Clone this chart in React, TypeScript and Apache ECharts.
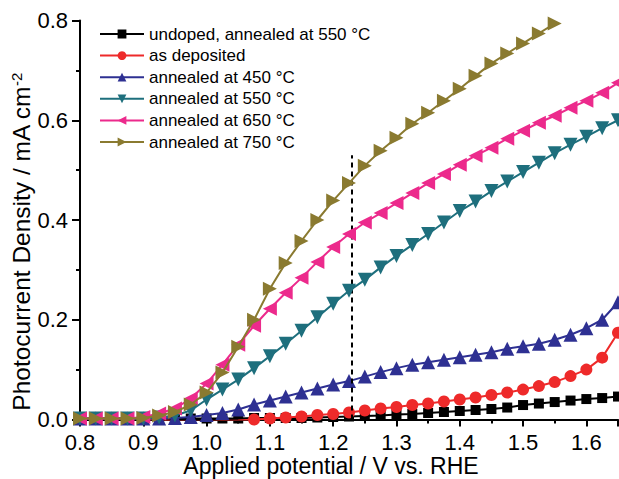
import React, { useEffect, useRef } from "react";
import * as echarts from "echarts";

const potentials = [0.8, 0.825, 0.85, 0.875, 0.9, 0.925, 0.95, 0.975, 1.0, 1.025, 1.05, 1.075, 1.1, 1.125, 1.15, 1.175, 1.2, 1.225, 1.25, 1.275, 1.3, 1.325, 1.35, 1.375, 1.4, 1.425, 1.45, 1.475, 1.5, 1.525, 1.55, 1.575, 1.6, 1.625, 1.65];

const undoped550 = [0.003, 0.003, 0.003, 0.003, 0.003, 0.002, 0.002, 0.002, 0.002, 0.002, 0.002, 0.003, 0.003, 0.003, 0.003, 0.004, 0.005, 0.006, 0.007, 0.008, 0.01, 0.011, 0.013, 0.015, 0.017, 0.019, 0.021, 0.024, 0.029, 0.032, 0.035, 0.038, 0.041, 0.043, 0.046];
const asDeposited = [0.003, 0.003, 0.003, 0.002, 0.001, -0.001, -0.003, -0.004, -0.004, -0.003, -0.002, 0.0, 0.002, 0.004, 0.006, 0.009, 0.011, 0.014, 0.018, 0.022, 0.025, 0.029, 0.032, 0.036, 0.04, 0.044, 0.049, 0.054, 0.06, 0.067, 0.075, 0.087, 0.1, 0.124, 0.174];
const annealed450 = [0.002, 0.002, 0.002, 0.002, 0.002, 0.002, 0.003, 0.005, 0.009, 0.013, 0.02, 0.03, 0.038, 0.046, 0.054, 0.062, 0.07, 0.077, 0.086, 0.095, 0.103, 0.11, 0.115, 0.12, 0.125, 0.13, 0.135, 0.142, 0.147, 0.152, 0.16, 0.17, 0.183, 0.2, 0.235];
const annealed550 = [0.002, 0.002, 0.002, 0.002, 0.002, 0.004, 0.008, 0.018, 0.04, 0.06, 0.08, 0.103, 0.127, 0.152, 0.178, 0.205, 0.232, 0.258, 0.28, 0.305, 0.328, 0.35, 0.372, 0.395, 0.418, 0.437, 0.458, 0.477, 0.496, 0.515, 0.534, 0.551, 0.567, 0.584, 0.6];
const annealed650 = [0.002, 0.002, 0.002, 0.002, 0.005, 0.012, 0.022, 0.042, 0.072, 0.11, 0.15, 0.188, 0.222, 0.254, 0.284, 0.316, 0.346, 0.372, 0.395, 0.414, 0.434, 0.454, 0.474, 0.492, 0.511, 0.529, 0.545, 0.563, 0.579, 0.595, 0.609, 0.625, 0.639, 0.655, 0.675];
const annealed750 = [0.002, 0.002, 0.002, 0.002, 0.003, 0.008, 0.015, 0.03, 0.054, 0.094, 0.146, 0.2, 0.262, 0.314, 0.358, 0.4, 0.439, 0.474, 0.509, 0.539, 0.565, 0.593, 0.615, 0.639, 0.663, 0.689, 0.714, 0.734, 0.754, 0.774, 0.794, null, null, null, null];

const seriesNames = [
  "undoped, annealed at 550 °C",
  "as deposited",
  "annealed at 450 °C",
  "annealed at 550 °C",
  "annealed at 650 °C",
  "annealed at 750 °C",
];
const seriesValues = [undoped550, asDeposited, annealed450, annealed550, annealed650, annealed750];
const seriesColors = ["#000000", "#ee2a2a", "#2e3092", "#1e6f7d", "#ec2a8c", "#8a7a30"];
const seriesSymbols = ["rect", "circle", "triangle", "triangle", "triangle", "triangle"];
const seriesRotations = [0, 0, 0, 180, 90, -90];
const seriesSymbolSizes = [10, 12, 14, 14, 14, 14];

const referencePotential = 1.23;
const referenceLineTop = 0.53;

const FONT = "'Liberation Sans', Arial, Helvetica, sans-serif";

export default function App() {
  const ref = useRef<HTMLDivElement>(null);
  useEffect(() => {
    if (!ref.current) return;
    const chart = echarts.init(ref.current, null, { renderer: "svg" });
    const series: any[] = seriesNames.map((name, i) => ({
      name,
      type: "line",
      data: potentials.map((x, j) => [x, seriesValues[i][j]]),
      symbol: seriesSymbols[i],
      symbolSize: seriesSymbolSizes[i],
      symbolRotate: seriesRotations[i],
      showAllSymbol: true,
      connectNulls: false,
      itemStyle: { color: seriesColors[i] },
      lineStyle: { color: seriesColors[i], width: 2 },
      z: 2 + i,
    }));
    series[0].markLine = {
      silent: true,
      symbol: ["none", "none"],
      label: { show: false },
      lineStyle: { type: [5, 4], color: "#000", width: 2 },
      data: [[{ coord: [referencePotential, 0] }, { coord: [referencePotential, referenceLineTop] }]],
    };
    chart.setOption({
      animation: false,
      backgroundColor: "#ffffff",
      grid: { left: 80, top: 20.5, width: 538, height: 399, containLabel: false, outerBoundsMode: "none" },
      legend: {
        left: 99,
        top: 25.5,
        padding: 0,
        orient: "vertical",
        itemWidth: 44,
        itemHeight: 11,
        itemGap: 4.6,
        textStyle: { fontSize: 17, lineHeight: 17, color: "#000", fontFamily: FONT },
        data: seriesNames,
      },
      xAxis: {
        type: "value",
        min: 0.8,
        max: 1.65,
        interval: 0.1,
        name: "Applied potential / V vs. RHE",
        nameLocation: "middle",
        nameGap: 35,
        nameMoveOverlap: false,
        nameTextStyle: { fontSize: 23, color: "#000", fontFamily: FONT, padding: [0, 36, 0, 0] },
        axisLine: { show: true, onZero: false, lineStyle: { color: "#000", width: 2 } },
        axisTick: { show: true, inside: false, length: 7, lineStyle: { color: "#000", width: 2 } },
        minorTick: { show: true, splitNumber: 2, length: 4, lineStyle: { color: "#000", width: 2 } },
        axisLabel: { fontSize: 22, color: "#000", fontFamily: FONT, margin: 12, formatter: (v: number) => v.toFixed(1), showMaxLabel: false },
        splitLine: { show: false },
      },
      yAxis: {
        type: "value",
        min: 0,
        max: 0.8,
        interval: 0.2,
        name: "Photocurrent Density / mA cm{sup|-2}",
        nameLocation: "middle",
        nameGap: 46,
        nameMoveOverlap: false,
        nameRotate: 90,
        nameTextStyle: {
          fontSize: 24.5,
          color: "#000",
          fontFamily: FONT,
          padding: [0, 44, 0, 0],
          rich: { sup: { fontSize: 15, color: "#000", fontFamily: FONT, verticalAlign: "top", padding: [0, 0, 10, 0] } },
        },
        axisLine: { show: true, lineStyle: { color: "#000", width: 2 } },
        axisTick: { show: true, inside: false, length: 8, lineStyle: { color: "#000", width: 2 } },
        minorTick: { show: true, splitNumber: 2, length: 4, lineStyle: { color: "#000", width: 2 } },
        axisLabel: { fontSize: 22, color: "#000", fontFamily: FONT, margin: 12, formatter: (v: number) => v.toFixed(1) },
        splitLine: { show: false },
      },
      series,
    });
    return () => chart.dispose();
  }, []);
  return <div ref={ref} style={{ position: "fixed", left: 0, top: 0, width: 619, height: 479 }} />;
}
